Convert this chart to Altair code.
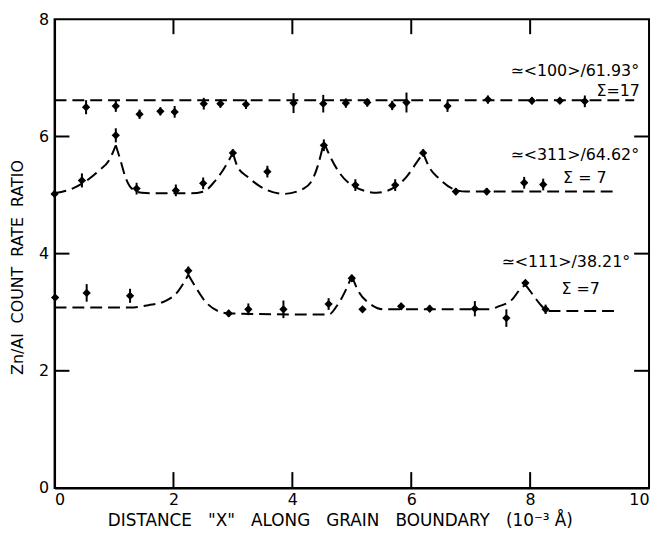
import altair as alt
import pandas as pd

# ---- tick values ----
x_ticks = [0, 2, 4, 6, 8, 10]
y_ticks = [0, 2, 4, 6, 8]
inner_x_ticks = [2, 4, 6, 8]
inner_y_ticks = [2, 4, 6]

# ---- measured points: <100>/61.93 deg, Sigma=17 ----
s100_x = [0.53, 1.03, 1.43, 1.78, 2.02, 2.51, 2.79, 3.22, 4.02, 4.52, 4.90, 5.26, 5.68, 5.92, 6.61, 7.29, 8.03, 8.50, 8.92]
s100_y = [6.50, 6.52, 6.38, 6.43, 6.42, 6.56, 6.56, 6.55, 6.57, 6.56, 6.57, 6.58, 6.53, 6.58, 6.52, 6.63, 6.61, 6.61, 6.60]
s100_e = [0.12, 0.10, 0.08, 0.07, 0.10, 0.10, 0.07, 0.08, 0.17, 0.15, 0.08, 0.07, 0.08, 0.17, 0.10, 0.07, 0.06, 0.04, 0.10]

# ---- measured points: <311>/64.62 deg, Sigma=7 ----
s311_x = [0.00, 0.46, 1.03, 1.38, 2.04, 2.50, 3.00, 3.58, 4.53, 5.06, 5.73, 6.20, 6.75, 7.27, 7.90, 8.22]
s311_y = [5.02, 5.25, 6.02, 5.11, 5.08, 5.20, 5.72, 5.40, 5.85, 5.17, 5.17, 5.72, 5.06, 5.06, 5.21, 5.18]
s311_e = [0.03, 0.12, 0.12, 0.10, 0.10, 0.10, 0.06, 0.10, 0.10, 0.10, 0.10, 0.06, 0.06, 0.06, 0.10, 0.10]

# ---- measured points: <111>/38.21 deg, Sigma=7 ----
s111_x = [0.01, 0.54, 1.27, 2.25, 2.93, 3.26, 3.85, 4.61, 5.00, 5.18, 5.83, 6.31, 7.07, 7.60, 7.92, 8.26]
s111_y = [3.25, 3.33, 3.28, 3.71, 2.98, 3.05, 3.05, 3.14, 3.58, 3.05, 3.10, 3.06, 3.06, 2.90, 3.50, 3.05]
s111_e = [0.03, 0.15, 0.12, 0.07, 0.06, 0.10, 0.15, 0.10, 0.06, 0.04, 0.06, 0.06, 0.13, 0.15, 0.05, 0.08]

# ---- dashed fit curves, split at the cusps ----
c100 = [([0.0, 9.75], [6.62, 6.62])]
c311 = [
    ([0.0, 0.30, 0.47, 0.75, 0.92, 1.03], [5.03, 5.11, 5.20, 5.42, 5.60, 5.85]),
    ([1.03, 1.11, 1.19, 1.30, 1.47, 1.70, 2.30, 2.51, 2.69, 2.83, 3.00], [5.85, 5.59, 5.31, 5.11, 5.04, 5.03, 5.03, 5.06, 5.23, 5.42, 5.72]),
    ([3.00, 3.08, 3.25, 3.47, 3.86, 4.19, 4.36, 4.44, 4.53], [5.72, 5.48, 5.31, 5.14, 5.02, 5.11, 5.31, 5.54, 5.90]),
    ([4.53, 4.64, 4.80, 5.05, 5.42, 5.73, 5.92, 6.08, 6.20], [5.90, 5.65, 5.37, 5.14, 5.04, 5.14, 5.31, 5.54, 5.72]),
    ([6.20, 6.30, 6.47, 6.69, 6.92, 9.40], [5.72, 5.48, 5.28, 5.11, 5.06, 5.06]),
]
c111 = [
    ([0.0, 1.27, 1.58, 1.86, 2.08, 2.19, 2.25], [3.08, 3.08, 3.12, 3.19, 3.36, 3.53, 3.64]),
    ([2.25, 2.36, 2.53, 2.75, 2.93, 4.61, 4.75, 4.89, 5.00], [3.64, 3.45, 3.19, 3.02, 2.98, 2.96, 3.11, 3.36, 3.62]),
    ([5.00, 5.11, 5.31, 5.53, 7.30, 7.47, 7.70, 7.83, 7.92], [3.62, 3.36, 3.14, 3.05, 3.05, 3.10, 3.22, 3.39, 3.47]),
    ([7.92, 8.06, 8.19, 8.30, 9.42], [3.47, 3.28, 3.11, 3.02, 3.02]),
]

# ---- annotations ----
label_text = ["\u2243<100>/61.93\u00b0", "\u03a3=17", "\u2243<311>/64.62\u00b0", "\u03a3 = 7", "\u2243<111>/38.21\u00b0", "\u03a3 =7"]
label_x = [8.75, 9.48, 8.75, 8.92, 8.60, 8.85]
label_y = [7.11, 6.78, 5.69, 5.29, 3.85, 3.39]

# ---- build tables ----
rows = []
for name, xs, ys, es in [("100", s100_x, s100_y, s100_e), ("311", s311_x, s311_y, s311_e), ("111", s111_x, s111_y, s111_e)]:
    for xv, yv, ev in zip(xs, ys, es):
        rows.append({"series": name, "x": xv, "y": yv, "lo": yv - ev, "hi": yv + ev})
pts = pd.DataFrame(rows)

crow = []
for name, segs in [("100", c100), ("311", c311), ("111", c111)]:
    for i, (xs, ys) in enumerate(segs):
        for xv, yv in zip(xs, ys):
            crow.append({"key": f"{name}-{i}", "x": xv, "y": yv})
curves = pd.DataFrame(crow)

labels = pd.DataFrame({"t": label_text, "x": label_x, "y": label_y})
xt = pd.DataFrame({"x": inner_x_ticks})
yt = pd.DataFrame({"y": inner_y_ticks})

W, H = 600, 473
FONT = "DejaVu Sans"

xscale = alt.Scale(domain=[0, 10], nice=False, zero=False)
yscale = alt.Scale(domain=[0, 8], nice=False, zero=False)

xtitle = "\u00a0\u00a0 ".join(["DISTANCE", "\"X\"", "ALONG", "GRAIN", "BOUNDARY", "(10\u207b\u00b3 \u00c5)"])
ytitle = "\u00a0 ".join(["Zn/Al", "COUNT", "RATE", "RATIO"])

xenc = alt.X("x:Q", scale=xscale, axis=alt.Axis(
    values=x_ticks, format="d", title=xtitle, ticks=False, grid=False,
    labelPadding=4, titleX=288, titleY=33, titleBaseline="middle", titleAlign="center",
    titleFontSize=17))
yenc = alt.Y("y:Q", scale=yscale, axis=alt.Axis(
    values=y_ticks, format="d", title=ytitle, ticks=False, grid=False,
    labelPadding=6, titleX=-37, titleY=250, titleBaseline="middle", titleAlign="center", titleAngle=-90,
    titleFontSize=16))

lines = alt.Chart(curves).mark_line(
    interpolate="monotone", strokeDash=[12, 6], strokeWidth=2, color="black"
).encode(x=xenc, y=yenc, detail="key:N")

bars = alt.Chart(pts).mark_rule(strokeWidth=2, color="black").encode(
    x=alt.X("x:Q", scale=xscale), y=alt.Y("lo:Q", scale=yscale), y2="hi:Q")

dots = alt.Chart(pts).mark_point(shape="diamond", filled=True, size=70, color="black", opacity=1).encode(
    x=alt.X("x:Q", scale=xscale), y=alt.Y("y:Q", scale=yscale))

text = alt.Chart(labels).mark_text(font=FONT, fontSize=16, color="black", align="center", baseline="middle").encode(
    x=alt.X("x:Q", scale=xscale), y=alt.Y("y:Q", scale=yscale), text="t:N")

top_ticks = alt.Chart(xt).mark_rule(strokeWidth=2, color="black").encode(
    x=alt.X("x:Q", scale=xscale), y=alt.value(0), y2=alt.value(15))
bot_ticks = alt.Chart(xt).mark_rule(strokeWidth=2, color="black").encode(
    x=alt.X("x:Q", scale=xscale), y=alt.value(H - 16), y2=alt.value(H))
left_ticks = alt.Chart(yt).mark_rule(strokeWidth=2, color="black").encode(
    y=alt.Y("y:Q", scale=yscale), x=alt.value(0), x2=alt.value(15))
right_ticks = alt.Chart(yt).mark_rule(strokeWidth=2, color="black").encode(
    y=alt.Y("y:Q", scale=yscale), x=alt.value(W - 15), x2=alt.value(W))

chart = alt.layer(lines, bars, dots, text, top_ticks, bot_ticks, left_ticks, right_ticks).properties(
    width=W, height=H,
    autosize=alt.AutoSizeParams(type="none"),
    padding={"left": 47, "top": 9, "right": 3, "bottom": 41},
    background="white",
).configure_view(stroke="black", strokeWidth=2).configure_axis(
    domainColor="black", domainWidth=2,
    labelFont=FONT, labelFontSize=16, labelColor="black",
    titleFont=FONT, titleFontSize=15, titleFontWeight="normal", titleColor="black",
)

chart.save("out.html", embed_options={"renderer": "svg", "actions": False})
